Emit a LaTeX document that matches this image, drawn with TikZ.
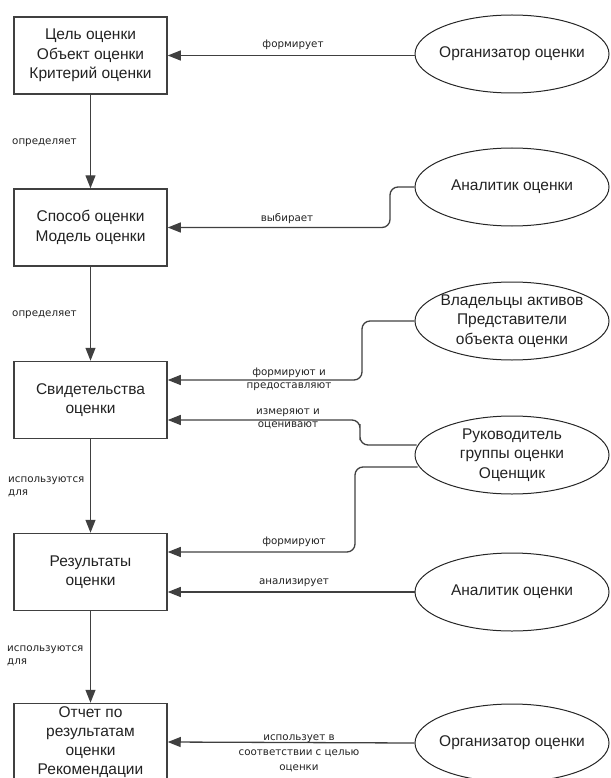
\documentclass[tikz,border=0pt]{standalone}
\usepackage{fontspec}
\setmainfont{Liberation Sans}
\newfontfamily\lblfont{DejaVu Sans}
\usetikzlibrary{arrows.meta,shapes.geometric}
\definecolor{ln}{HTML}{404040}
\definecolor{tx}{HTML}{222222}
\begin{document}
\begin{tikzpicture}[x=1pt,y=-1pt,
 box/.style={draw=ln, line width=1.5pt, minimum width=153pt, minimum height=77pt, inner sep=0pt, align=center, font=\fontsize{15.5}{19.5}\selectfont, text=tx},
 ell/.style={ellipse, draw=black!85, line width=1pt, minimum width=194pt, minimum height=78pt, inner sep=-12pt, align=center, font=\fontsize{15.5}{19.5}\selectfont, text=tx},
 conn/.style={draw=ln, line width=1.3pt, -{Triangle[length=13pt,width=10pt]}, rounded corners=8pt},
 lbl/.style={font=\lblfont\fontsize{10.3}{13.5}\selectfont, inner sep=0pt, align=center, text=tx},
 lbll/.style={lbl, align=left, anchor=west}
]
\useasboundingbox (0,0) rectangle (610,778);
\clip (0,0) rectangle (610,778);

% boxes
\node[box] (b1) at (90.5,55.5) {Цель оценки\\Объект оценки\\Критерий оценки};
\node[box] (b2) at (90.5,227.5) {Способ оценки\\Модель оценки};
\node[box] (b3) at (90.5,400) {Свидетельства\\оценки};
\node[box] (b4) at (90.5,572) {Результаты\\оценки};
\node[box, font=\fontsize{15.5}{19}\selectfont] (b5) at (90.5,742) {Отчет по\\результатам\\оценки\\Рекомендации};

% ellipses
\node[ell] (e1) at (512,54) {Организатор оценки};
\node[ell] (e2) at (512,187) {Аналитик оценки};
\node[ell] (e3) at (512,321) {Владельцы активов\\Представители\\объекта оценки};
\node[ell] (e4) at (512,455) {Руководитель\\группы оценки\\Оценщик};
\node[ell] (e5) at (512,592) {Аналитик оценки};
\node[ell] (e6) at (512,743) {Организатор оценки};

% vertical connectors
\draw[conn] (b1.south) -- (b2.north);
\draw[conn] (b2.south) -- (b3.north);
\draw[conn] (b3.south) -- (b4.north);
\draw[conn] (b4.south) -- (b5.north);

% horizontal connectors
\draw[conn] (e1.west |- b1.east) -- (b1.east);
\draw[conn] (e2.west) -| (390,207) |- (b2.east);
\draw[conn] (e3.west) -| (362,350) |- ([yshift=20pt]b3.east);
\draw[conn] ([xshift=2pt,yshift=10pt]e4.west) -| (360,432) |- ([yshift=-20pt]b3.east);
\draw[conn] ([xshift=3pt,yshift=-12pt]e4.west) -| (355,510) |- ([yshift=20pt]b4.east);
\draw[conn] (e5.west) -- ([yshift=-20pt]b4.east);
\draw[conn] (e6.west) -- (b5.east);

% connector labels
\node[lbl] (l1) at (293,45) {формирует};
\node[lbl] (l2) at (287,219) {выбирает};
\node[lbl] (l3) at (289,379.5) {формируют и\\предоставляют};
\node[lbl] (l4) at (288,419) {измеряют и\\оценивают};
\node[lbl] (l5) at (294,542) {формируют};
\node[lbl] (l6) at (294,583) {анализирует};
\node[lbl, font=\lblfont\fontsize{10.3}{15}\selectfont] (l7) at (299,753) {использует в\\соответствии с целью\\оценки};

\node[lbll] (v1) at (12,143) {определяет};
\node[lbll] (v2) at (12,315) {определяет};
\node[lbll] (v3) at (8,487) {используются\\для};
\node[lbll] (v4) at (7,656) {используются\\для};
\end{tikzpicture}
\end{document}
